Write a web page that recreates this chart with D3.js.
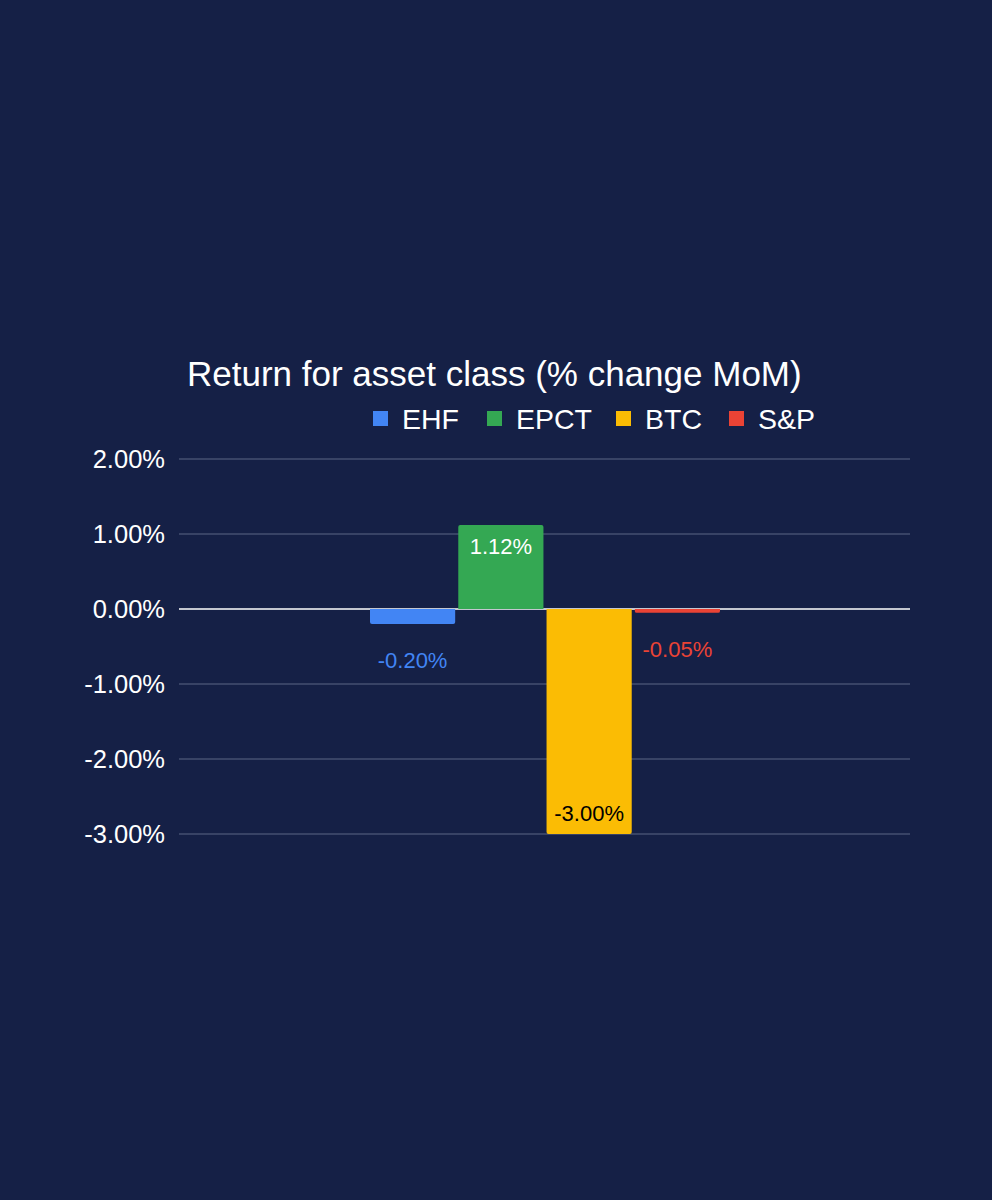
<!DOCTYPE html>
<html>
<head>
<meta charset="utf-8" />
<title>Return for asset class</title>
<script src="https://cdn.jsdelivr.net/npm/d3@7"></script>
<style>
    html, body { margin: 0; padding: 0; background: #152046; }
    svg text { font-family: "Liberation Sans", Arial, sans-serif; }
</style>
</head>
<body>
<svg id="chart" width="992" height="1200"></svg>
<script>
    var series = ["EHF", "EPCT", "BTC", "S&P"];
    var values = [-0.20, 1.12, -3.00, -0.05];
    var colors = ["#4285f4", "#34a853", "#fbbc04", "#ea4335"];
    var labelColors = ["#4285f4", "#ffffff", "#000000", "#ea4335"];
    var ticks = [2, 1, 0, -1, -2, -3];

    var svg = d3.select("#chart");
    svg.append("rect").attr("width", 992).attr("height", 1200).attr("fill", "#152046");

    var left = 179, right = 910;
    var y = d3.scaleLinear().domain([-3, 2]).range([834, 459]);
    // one category, four series; group centred in plot
    var x = d3.scaleBand().domain(series).range([370, 720]).paddingInner(0.035);

    // title
    svg.append("text")
        .attr("x", 187).attr("y", 386)
        .attr("font-size", 35)
        .attr("fill", "#ffffff")
        .text("Return for asset class (% change MoM)");

    // legend
    var legendX = [373, 487, 616, 729];
    var lg = svg.selectAll(".lg").data(series).enter().append("g")
        .attr("transform", function (d, i) { return "translate(" + legendX[i] + ",410)"; });
    lg.append("rect").attr("width", 15).attr("height", 15).attr("y", 1)
        .attr("fill", function (d, i) { return colors[i]; });
    lg.append("text").attr("x", 29).attr("y", 18.5)
        .attr("font-size", 28.5).attr("fill", "#ffffff")
        .text(function (d) { return d; });

    // grid + y labels
    var fmt = function (d) { return d.toFixed(2) + "%"; };
    svg.selectAll(".grid").data(ticks).enter().append("line")
        .attr("x1", left).attr("x2", right)
        .attr("y1", function (d) { return y(d); })
        .attr("y2", function (d) { return y(d); })
        .attr("stroke", function (d) { return d === 0 ? "#ffffff" : "#5d6685"; })
        .attr("stroke-width", function (d) { return d === 0 ? 1.5 : 1; });
    svg.selectAll(".ylab").data(ticks).enter().append("text")
        .attr("x", 165)
        .attr("y", function (d) { return y(d) + 9; })
        .attr("text-anchor", "end")
        .attr("font-size", 25.5).attr("fill", "#ffffff")
        .text(fmt);

    // bars
    svg.selectAll(".bar").data(values).enter().append("path")
        .attr("fill", function (d, i) { return colors[i]; })
        .attr("d", function (d, i) {
            var x0 = x(series[i]), w = x.bandwidth();
            var y0 = y(0), y1 = y(d), r = 2;
            var h = Math.abs(y1 - y0);
            r = Math.min(r, h / 2);
            if (d >= 0) {
                return "M" + x0 + "," + y0 + "V" + (y1 + r) + "Q" + x0 + "," + y1 + " " + (x0 + r) + "," + y1 +
                    "H" + (x0 + w - r) + "Q" + (x0 + w) + "," + y1 + " " + (x0 + w) + "," + (y1 + r) + "V" + y0 + "Z";
            }
            return "M" + x0 + "," + y0 + "V" + (y1 - r) + "Q" + x0 + "," + y1 + " " + (x0 + r) + "," + y1 +
                "H" + (x0 + w - r) + "Q" + (x0 + w) + "," + y1 + " " + (x0 + w) + "," + (y1 - r) + "V" + y0 + "Z";
        });

    // data labels: inside bar end for large bars, outside for small
    svg.selectAll(".vlab").data(values).enter().append("text")
        .attr("x", function (d, i) { return x(series[i]) + x.bandwidth() / 2; })
        .attr("y", function (d) {
            var big = Math.abs(d) > 0.5;
            if (d >= 0) return big ? y(d) + 29 : y(d) - 10;
            return big ? y(d) - 13 : y(d) + 44;
        })
        .attr("text-anchor", "middle")
        .attr("font-size", 22)
        .attr("font-family", "Roboto, sans-serif")
        .attr("fill", function (d, i) { return labelColors[i]; })
        .text(fmt);
</script>
</body>
</html>
